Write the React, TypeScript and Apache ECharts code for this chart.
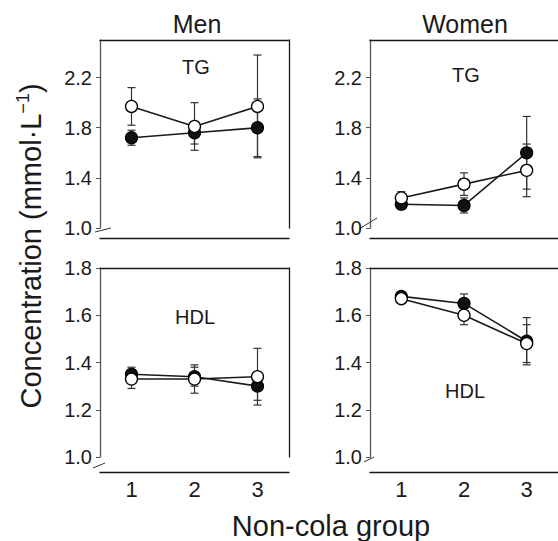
import React, { useEffect, useRef } from "react";
import * as echarts from "echarts";

// ---- data ----
const groups = [1, 2, 3];
const yTicksTG = [1.0, 1.4, 1.8, 2.2];
const yTicksHDL = [1.0, 1.2, 1.4, 1.6, 1.8];

// Men TG
const menTGFilled = [1.72, 1.76, 1.8];
const menTGFilledErr = [0.06, 0.09, 0.23];
const menTGOpen = [1.97, 1.81, 1.97];
const menTGOpenErr = [0.15, 0.19, 0.41];
// Women TG
const womenTGFilled = [1.19, 1.18, 1.6];
const womenTGFilledErr = [0.04, 0.06, 0.29];
const womenTGOpen = [1.24, 1.35, 1.46];
const womenTGOpenErr = [0.05, 0.09, 0.21];
// Men HDL
const menHDLFilled = [1.35, 1.34, 1.3];
const menHDLFilledErr = [0.03, 0.04, 0.06];
const menHDLOpen = [1.33, 1.33, 1.34];
const menHDLOpenErr = [0.04, 0.06, 0.12];
// Women HDL
const womenHDLFilled = [1.68, 1.65, 1.49];
const womenHDLFilledErr = [0.01, 0.04, 0.1];
const womenHDLOpen = [1.67, 1.6, 1.48];
const womenHDLOpenErr = [0.01, 0.04, 0.08];

const FONT = "'Liberation Sans', Arial, Helvetica, sans-serif";
const INK = "#1a1a1a";

type Panel = {
  grid: { left: number; top: number; width: number; height: number };
  yMin: number;
  yMax: number;
  yTicks: number[];
  xOffset: number;
  showX: boolean;
  rightBorder: boolean;
  filled: number[];
  filledErr: number[];
  open: number[];
  openErr: number[];
};

const panels: Panel[] = [
  {
    grid: { left: 100, top: 40, width: 189, height: 188 },
    yMin: 1.0, yMax: 2.5, yTicks: yTicksTG, xOffset: 10, showX: false, rightBorder: true,
    filled: menTGFilled, filledErr: menTGFilledErr, open: menTGOpen, openErr: menTGOpenErr,
  },
  {
    grid: { left: 370, top: 40, width: 188, height: 188 },
    yMin: 1.0, yMax: 2.5, yTicks: yTicksTG, xOffset: 10, showX: false, rightBorder: false,
    filled: womenTGFilled, filledErr: womenTGFilledErr, open: womenTGOpen, openErr: womenTGOpenErr,
  },
  {
    grid: { left: 100, top: 268, width: 189, height: 189 },
    yMin: 1.0, yMax: 1.8, yTicks: yTicksHDL, xOffset: 15, showX: true, rightBorder: true,
    filled: menHDLFilled, filledErr: menHDLFilledErr, open: menHDLOpen, openErr: menHDLOpenErr,
  },
  {
    grid: { left: 370, top: 268, width: 188, height: 189 },
    yMin: 1.0, yMax: 1.8, yTicks: yTicksHDL, xOffset: 15, showX: true, rightBorder: false,
    filled: womenHDLFilled, filledErr: womenHDLFilledErr, open: womenHDLOpen, openErr: womenHDLOpenErr,
  },
];

function errRender(params: any, api: any) {
  const x = api.value(0);
  const lo = api.coord([x, api.value(1)]);
  const hi = api.coord([x, api.value(2)]);
  const hw = 4;
  const style = { stroke: "#333", lineWidth: 1.2 };
  return {
    type: "group",
    children: [
      { type: "line", shape: { x1: lo[0], y1: lo[1], x2: hi[0], y2: hi[1] }, style },
      { type: "line", shape: { x1: lo[0] - hw, y1: lo[1], x2: lo[0] + hw, y2: lo[1] }, style },
      { type: "line", shape: { x1: hi[0] - hw, y1: hi[1], x2: hi[0] + hw, y2: hi[1] }, style },
    ],
  };
}

function buildOption() {
  const grid: any[] = [];
  const xAxis: any[] = [];
  const yAxis: any[] = [];
  const series: any[] = [];

  panels.forEach((p, gi) => {
    grid.push({ ...p.grid, containLabel: false });
    const xMain = xAxis.length;
    xAxis.push({
      type: "value", gridIndex: gi, min: 0.5, max: 3.5, position: "bottom", offset: p.xOffset,
      axisLine: { show: true, onZero: false, lineStyle: { color: INK, width: 1.3 } },
      axisTick: { show: false },
      axisLabel: {
        show: p.showX, customValues: groups, fontSize: 22, color: INK, fontFamily: FONT, margin: 6,
        formatter: (v: number) => String(v),
      },
      splitLine: { show: false },
    });
    xAxis.push({
      type: "value", gridIndex: gi, min: 0.5, max: 3.5, position: "top",
      axisLine: { show: true, onZero: false, lineStyle: { color: INK, width: 1.3 } },
      axisTick: { show: false }, axisLabel: { show: false }, splitLine: { show: false },
    });
    const yMain = yAxis.length;
    yAxis.push({
      type: "value", gridIndex: gi, min: p.yMin, max: p.yMax, position: "left",
      axisLine: { show: true, onZero: false, lineStyle: { color: "#555", width: 1.3 } },
      axisTick: { show: true, length: 4, customValues: p.yTicks, lineStyle: { color: "#555" } },
      axisLabel: {
        customValues: p.yTicks, fontSize: 20, color: INK, fontFamily: FONT, margin: 8,
        formatter: (v: number) => v.toFixed(1),
      },
      splitLine: { show: false },
    });
    if (p.rightBorder) {
      yAxis.push({
        type: "value", gridIndex: gi, min: p.yMin, max: p.yMax, position: "right",
        axisLine: { show: true, onZero: false, lineStyle: { color: INK, width: 1.3 } },
        axisTick: { show: false }, axisLabel: { show: false }, splitLine: { show: false },
      });
    }

    const mk = (vals: number[], errs: number[]) => groups.map((g, i) => [g, vals[i] - errs[i], vals[i] + errs[i]]);
    series.push({
      type: "custom", xAxisIndex: xMain, yAxisIndex: yMain, renderItem: errRender,
      data: mk(p.filled, p.filledErr), encode: { x: 0, y: [1, 2] }, z: 2, silent: true,
    });
    series.push({
      type: "custom", xAxisIndex: xMain, yAxisIndex: yMain, renderItem: errRender,
      data: mk(p.open, p.openErr), encode: { x: 0, y: [1, 2] }, z: 2, silent: true,
    });
    series.push({
      type: "line", xAxisIndex: xMain, yAxisIndex: yMain, z: 3,
      data: groups.map((g, i) => [g, p.filled[i]]),
      symbol: "circle", symbolSize: 12,
      lineStyle: { color: INK, width: 1.6 },
      itemStyle: { color: "#111", borderColor: "#000", borderWidth: 1.2 },
    });
    series.push({
      type: "line", xAxisIndex: xMain, yAxisIndex: yMain, z: 4,
      data: groups.map((g, i) => [g, p.open[i]]),
      symbol: "circle", symbolSize: 12,
      lineStyle: { color: INK, width: 1.6 },
      itemStyle: { color: "#fff", borderColor: "#000", borderWidth: 1.3 },
    });
  });

  const txt = (text: string, x: number, y: number, size: number) => ({
    type: "text", x, y, silent: true,
    style: { text, fontSize: size, fontFamily: FONT, fill: INK, align: "center", verticalAlign: "middle" },
  });
  const slash = (x1: number, y1: number, x2: number, y2: number) => ({
    type: "line", silent: true, shape: { x1, y1, x2, y2 }, style: { stroke: "#333", lineWidth: 1 },
  });

  const graphic: any[] = [
    txt("Men", 197, 24, 25),
    txt("Women", 465, 24, 25),
    txt("TG", 196, 67, 20),
    txt("TG", 466, 75, 20),
    txt("HDL", 195, 317, 20),
    txt("HDL", 465, 391, 20),
    txt("Non-cola group", 331, 526, 29),
    {
      type: "text", x: 31, y: 246, rotation: Math.PI / 2, silent: true,
      style: {
        text: "{a|Concentration (mmol·L}{s|−1}{a|)}",
        align: "center", verticalAlign: "middle",
        rich: {
          a: { fontSize: 29, fontFamily: FONT, fill: INK, lineHeight: 34 },
          s: { fontSize: 18, fontFamily: FONT, fill: INK, lineHeight: 20, verticalAlign: "top" },
        },
      },
    },
    slash(95, 232, 111, 228),
    slash(359, 229, 377, 218),
    slash(93, 468, 105, 463),
    slash(364, 462, 374, 457),
  ];

  return {
    animation: false,
    backgroundColor: "#fff",
    grid, xAxis, yAxis, series, graphic,
  };
}

export default function App() {
  const ref = useRef<HTMLDivElement>(null);
  useEffect(() => {
    if (!ref.current) return;
    const chart = echarts.init(ref.current, undefined, { renderer: "svg" });
    chart.setOption(buildOption() as any);
    return () => chart.dispose();
  }, []);
  return (
    <div
      ref={ref}
      style={{ position: "fixed", left: 0, top: 0, width: 558, height: 541, background: "#fff" }}
    />
  );
}
